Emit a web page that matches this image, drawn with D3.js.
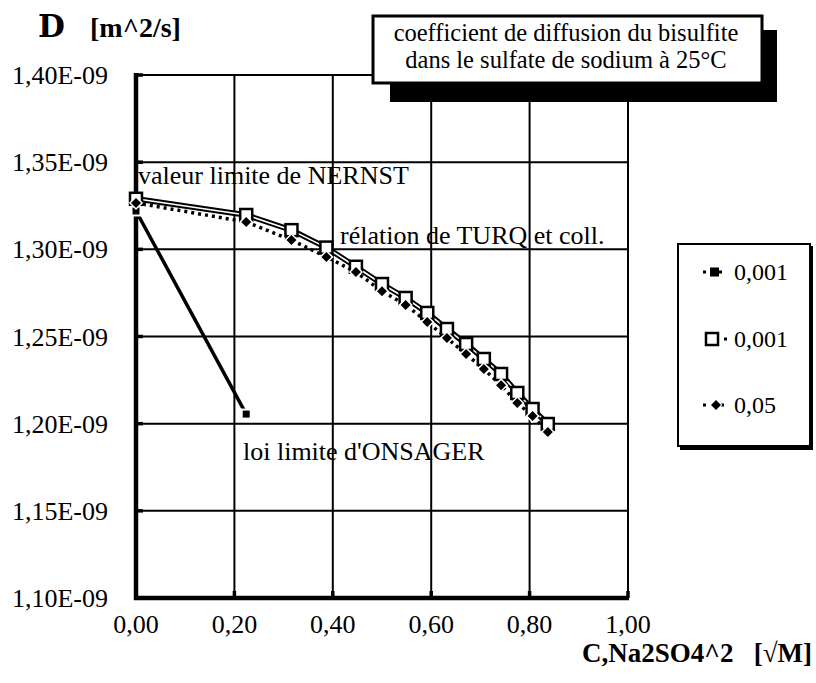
<!DOCTYPE html>
<html><head><meta charset="utf-8">
<script src="https://cdn.jsdelivr.net/npm/d3@7"></script>
<style>
html,body{margin:0;padding:0;background:#fff;}
svg{display:block;}
</style></head>
<body>
<svg id="c" width="816" height="683" font-family="Liberation Serif, Times New Roman, serif"></svg>
<script>
// ---- data (values in m^2/s) ----
const xTicks = [0, 0.2, 0.4, 0.6, 0.8, 1.0];
const yTicks = [1.10e-9, 1.15e-9, 1.20e-9, 1.25e-9, 1.30e-9, 1.35e-9, 1.40e-9];
const xOnsager = [0, 0.224];
const dOnsager = [1.322e-9, 1.2055e-9];
const xTurq = [0, 0.224, 0.316, 0.387, 0.447, 0.5, 0.548, 0.592, 0.632, 0.671, 0.707, 0.742, 0.775, 0.806, 0.837];
const dTurq001 = [1.329, 1.3197, 1.311, 1.301, 1.290, 1.2801, 1.2721, 1.2635, 1.2543, 1.2457, 1.2371, 1.2285, 1.2176, 1.2084, 1.1998].map(v => v * 1e-9);
const dTurq05 = [1.3266, 1.3157, 1.3053, 1.2956, 1.287, 1.276, 1.2681, 1.2583, 1.2491, 1.2399, 1.2313, 1.2221, 1.2118, 1.2044, 1.1952].map(v => v * 1e-9);
const legendLabels = ["0,001", "0,001", "0,05"];
const titleLines = ["coefficient de diffusion du bisulfite", "dans le sulfate de sodium à 25°C"];

const svg = d3.select("#c");
const x = d3.scaleLinear().domain([0, 1]).range([136, 628]);
const y = d3.scaleLinear().domain([1.10e-9, 1.40e-9]).range([598, 75]);
const fmtY = v => (v * 1e9).toFixed(2).replace(".", ",") + "E-09";
const fmtX = v => v.toFixed(2).replace(".", ",");

// grid
const g = svg.append("g");
g.selectAll("line.h").data(yTicks).join("line")
  .attr("x1", x(0)).attr("x2", x(1)).attr("y1", d => y(d)).attr("y2", d => y(d))
  .attr("stroke", "#000").attr("stroke-width", 2);
g.selectAll("line.v").data(xTicks).join("line")
  .attr("y1", y(1.10e-9)).attr("y2", y(1.40e-9)).attr("x1", d => x(d)).attr("x2", d => x(d))
  .attr("stroke", "#000").attr("stroke-width", 2);
// inner tick stubs
g.selectAll("line.ty").data(yTicks).join("line")
  .attr("x1", x(0)).attr("x2", x(0) + 7).attr("y1", d => y(d)).attr("y2", d => y(d))
  .attr("stroke", "#000").attr("stroke-width", 3.5);
g.selectAll("line.tx").data(xTicks).join("line")
  .attr("y1", y(1.10e-9)).attr("y2", y(1.10e-9) - 7).attr("x1", d => x(d)).attr("x2", d => x(d))
  .attr("stroke", "#000").attr("stroke-width", 3.5);
// thick axes
g.append("line").attr("x1", x(0)).attr("x2", x(0)).attr("y1", y(1.40e-9) - 2).attr("y2", y(1.10e-9) + 2)
  .attr("stroke", "#000").attr("stroke-width", 4.5);
g.append("line").attr("x1", x(0) - 2).attr("x2", x(1) + 1).attr("y1", y(1.10e-9)).attr("y2", y(1.10e-9))
  .attr("stroke", "#000").attr("stroke-width", 4.5);

// tick labels
svg.append("g").selectAll("text").data(yTicks).join("text")
  .attr("x", 108).attr("y", d => y(d)).attr("dy", "0.35em").attr("text-anchor", "end")
  .attr("font-size", 26).text(fmtY);
svg.append("g").selectAll("text").data(xTicks).join("text")
  .attr("x", d => x(d)).attr("y", 633).attr("text-anchor", "middle")
  .attr("font-size", 26).text(fmtX);

// axis titles
svg.append("text").attr("x", 38).attr("y", 37).attr("font-size", 31).attr("font-weight", "bold")
  .attr("font-family", "DejaVu Serif, serif").text("D");
svg.append("text").attr("x", 90).attr("y", 37).attr("font-size", 28).attr("font-weight", "bold").text("[m^2/s]");
svg.append("text").attr("x", 812).attr("y", 662).attr("text-anchor", "end").attr("font-size", 27)
  .attr("font-weight", "bold").attr("xml:space", "preserve").style("white-space", "pre").text("C,Na2SO4^2   [√M]");

// annotations
const ann = [
  {t: "valeur limite de NERNST", x: 138, y: 184},
  {t: "rélation de TURQ et coll.", x: 340, y: 244},
  {t: "loi limite d'ONSAGER", x: 243, y: 460}
];
svg.append("g").selectAll("text").data(ann).join("text")
  .attr("x", d => d.x).attr("y", d => d.y).attr("font-size", 26).text(d => d.t);

// series lines
const line = (xs) => d3.line().x((d, i) => x(xs[i])).y(d => y(d));
svg.append("path").attr("d", line(xOnsager)(dOnsager)).attr("fill", "none").attr("stroke", "#000").attr("stroke-width", 3.5);
svg.append("path").attr("d", line(xTurq)(dTurq001)).attr("fill", "none").attr("stroke", "#000").attr("stroke-width", 5.5);
svg.append("path").attr("d", line(xTurq)(dTurq001)).attr("fill", "none").attr("stroke", "#fff").attr("stroke-width", 1.6);
svg.append("path").attr("d", line(xTurq)(dTurq05)).attr("fill", "none").attr("stroke", "#000").attr("stroke-width", 3.5).attr("stroke-dasharray", "3,4");

// markers
svg.append("g").selectAll("rect").data(dOnsager).join("rect")
  .attr("x", (d, i) => x(xOnsager[i]) - 4.5).attr("y", d => y(d) - 4.5).attr("width", 9).attr("height", 9)
  .attr("fill", "#000").attr("stroke", "#fff").attr("stroke-width", 2);
svg.append("g").selectAll("rect").data(dTurq001).join("rect")
  .attr("x", (d, i) => x(xTurq[i]) - 6).attr("y", d => y(d) - 6).attr("width", 12).attr("height", 12)
  .attr("fill", "#fff").attr("stroke", "#000").attr("stroke-width", 2.5);
const diamond = d3.symbol().type(d3.symbolDiamond2).size(64);
svg.append("g").selectAll("path").data(dTurq05).join("path")
  .attr("d", diamond).attr("transform", (d, i) => `translate(${x(xTurq[i])},${y(d)})`)
  .attr("fill", "#000").attr("stroke", "#fff").attr("stroke-width", 3).attr("paint-order", "stroke");

// title box with shadow
svg.append("rect").attr("x", 390).attr("y", 30).attr("width", 387).attr("height", 72).attr("fill", "#000");
svg.append("rect").attr("x", 373).attr("y", 16).attr("width", 389).attr("height", 67)
  .attr("fill", "#fff").attr("stroke", "#000").attr("stroke-width", 3);
svg.append("g").selectAll("text").data(titleLines).join("text")
  .attr("x", 566).attr("y", (d, i) => 41 + i * 27).attr("text-anchor", "middle")
  .attr("font-size", 24.5).text(d => d);

// legend
svg.append("rect").attr("x", 680).attr("y", 246).attr("width", 133).attr("height", 204).attr("fill", "#000");
svg.append("rect").attr("x", 678).attr("y", 244).attr("width", 132).attr("height", 202)
  .attr("fill", "#fff").attr("stroke", "#000").attr("stroke-width", 2);
const legY = [272, 339, 405];
const lg = svg.append("g");
legendLabels.forEach((lab, i) => {
  const yy = legY[i];
  if (i === 0) {
    lg.append("line").attr("x1", 703).attr("x2", 727).attr("y1", yy).attr("y2", yy).attr("stroke", "#000").attr("stroke-width", 3).attr("stroke-dasharray", "3,5");
    lg.append("rect").attr("x", 710).attr("y", yy - 4.5).attr("width", 9).attr("height", 9).attr("fill", "#000");
  } else if (i === 1) {
    lg.append("line").attr("x1", 708).attr("x2", 731).attr("y1", yy).attr("y2", yy).attr("stroke", "#000").attr("stroke-width", 3).attr("stroke-dasharray", "3,5");
    lg.append("rect").attr("x", 706).attr("y", yy - 6).attr("width", 12).attr("height", 12).attr("fill", "#fff").attr("stroke", "#000").attr("stroke-width", 2.5);
  } else {
    lg.append("line").attr("x1", 703).attr("x2", 729).attr("y1", yy).attr("y2", yy).attr("stroke", "#000").attr("stroke-width", 3).attr("stroke-dasharray", "3,6");
    lg.append("path").attr("d", diamond).attr("transform", `translate(716,${yy})`).attr("fill", "#000").attr("stroke", "#fff").attr("stroke-width", 2).attr("paint-order", "stroke");
  }
  lg.append("text").attr("x", 734).attr("y", yy).attr("dy", "0.35em").attr("font-size", 24).text(lab);
});
</script>
</body></html>
